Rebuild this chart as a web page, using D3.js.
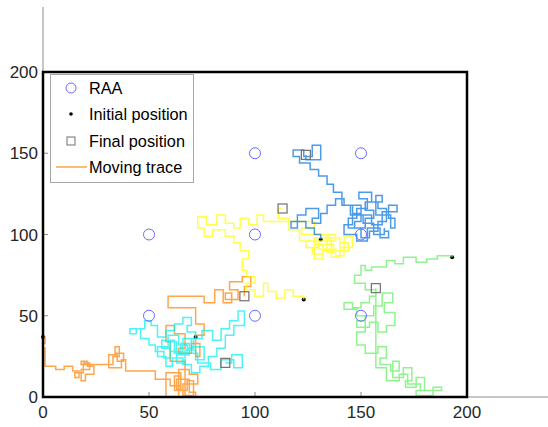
<!DOCTYPE html>
<html>
<head>
<meta charset="utf-8">
<script src="https://cdn.jsdelivr.net/npm/d3@7"></script>
<style>
  body { margin: 0; background: #fff; }
  svg { display: block; font-family: "Liberation Sans", Arial, sans-serif; }
</style>
</head>
<body>
<svg id="chart"></svg>
<script>
// chart size
var w = 548, h = 427;

// tick labels
var xTicks = [0, 50, 100, 150, 200];
var yTicks = [0, 50, 100, 150, 200];

// RAA positions
var raaX = [50, 100, 150, 50, 100, 150, 50, 100, 150];
var raaY = [50, 50, 50, 100, 100, 100, 150, 150, 150];

// moving traces, one list of [x, y] per mobile node
var traceOrange = [[0,37],[1,37],[1,33],[0,33],[0,30],[1,30],[1,19],
  [6,19],[6,17],[10,17],[10,19],[14,19],[14,16],[17,16],[17,12],[15,12],[15,15],[19,15],[19,21],[22,21],
  [22,17],[18,17],[18,10],[20,10],[20,14],[24,14],[24,19],[21,19],[21,22],[18,22],[18,20],
  [33,20],[33,25],[36,25],[36,31],[34,31],[34,27],[38,27],[38,22],[35,22],[35,26],[31,26],[31,18],[37,18],
  [37,23],[39,23],[39,16],[53,16],[53,11],[60,11],[60,7],[65,7],[65,13],[62,13],[62,4],[68,4],[68,10],
  [71,10],[71,1],[66,1],[66,8],[73,8],[73,14],[69,14],[69,17],[64,17],[64,0],[58,0],[58,15],[65,15],
  [65,5],[63,5],[63,11],[69,11],[69,3],[72,3],[72,0],[67,0],
  [67,22],[60,22],[60,34],[58,34],[58,44],[62,44],[62,39],[67,39],[67,30],[64,30],[64,27],[70,27],
  [70,33],[74,33],[74,25],[72,25],[72,38],[76,38],[76,45],[72,45],[72,55],[59,55],[59,62],[76,62],
  [76,58],[81,58],[81,66],[85,66],[85,58],[89,58],[89,64],[86,64],[86,60],[92,60],[92,66],[88,66],
  [88,71],[94,71],[94,74],[98,74],[98,68],[95,68],[95,62]];

var traceCyan = [[72,37],[72,40],[68,40],[68,44],[70,44],[70,49],[66,49],[66,45],[62,45],[62,41],
  [58,41],[58,37],[54,37],[54,44],[51,44],[51,47],[48,47],[48,42],[44,42],[44,39],[41,39],[41,42],
  [46,42],[46,36],[50,36],[50,32],[53,32],[53,28],[57,28],[57,24],[60,24],[60,30],[56,30],[56,35],
  [62,35],[62,27],[65,27],[65,33],[69,33],[69,26],[63,26],[63,21],[67,21],[67,29],[72,29],[72,23],
  [76,23],[76,31],[70,31],[70,36],[75,36],[75,41],[80,41],[80,35],[84,35],[84,42],[88,42],[88,47],
  [92,47],[92,53],[95,53],[95,44],[90,44],[90,38],[86,38],[86,30],[82,30],[82,25],[78,25],[78,19],
  [74,19],[74,15],[70,15],[70,20],[66,20],[66,24],[61,24],[61,19],[58,19],[58,25],[54,25],[54,31],
  [59,31],[59,38],[64,38],[64,32],[68,32],[68,27],[63,27],[63,34],[60,34],[60,28],[66,28],[66,36],
  [71,36],[71,30],[68,30],[68,27],[73,27],[73,21],[79,21],[79,17],[84,17],[84,23],
  [90,23],[90,18],[94,18],[94,26],[89,26],[89,21],[86,21]];

var traceYellow = [[123,60],[123,62],[118,62],[118,66],[114,66],[114,61],[110,61],[110,65],[106,65],
  [106,70],[104,70],[104,62],[100,62],[100,66],[96,66],[96,70],[100,70],[100,74],[96,74],[96,78],
  [94,78],[94,85],[97,85],[97,90],[93,90],[93,95],[90,95],[90,99],[86,99],[86,103],[80,103],[80,99],
  [76,99],[76,104],[73,104],[73,111],[77,111],[77,106],[82,106],[82,112],[86,112],[86,107],[90,107],
  [90,104],[93,104],[93,110],[97,110],[97,106],[101,106],[101,112],[104,112],[104,108],[128,108],
  [128,104],[122,104],[122,100],[135,100],[135,96],[130,96],[130,92],[127,92],[127,88],[132,88],
  [132,94],[137,94],[137,89],[134,89],[134,98],[140,98],[140,92],[146,92],[146,99],[142,99],[142,87],
  [138,87],[138,91],[130,91],[130,96],[124,96],[124,92],[128,92],[128,98],
  [136,98],[136,86],[140,86],[140,95],[144,95],[144,90],[132,90],[132,85],[128,85],[128,94],
  [134,94],[134,100],[138,100],[138,96],[121,96],[121,103],
  [116,103],[116,110],[111,110],[111,116],[113,116]];

var traceBlue = [[131,97],[131,100],[128,100],[128,104],[124,104],[124,108],[120,108],[120,104],
  [117,104],[117,108],[120,108],[120,112],[124,112],[124,116],[130,116],[130,110],[127,110],
  [127,107],[131,107],[131,113],[134,113],[134,118],[138,118],[138,122],[142,122],[142,118],
  [146,118],[146,113],[150,113],[150,108],[147,108],[147,104],[152,104],[152,110],[156,110],
  [156,115],[152,115],[152,120],[158,120],[158,116],[162,116],[162,108],[158,108],[158,102],
  [154,102],[154,98],[150,98],[150,104],[144,104],[144,110],[148,110],[148,116],[153,116],
  [153,122],[149,122],[149,126],[155,126],[155,120],[160,120],[160,124],[157,124],[157,112],
  [164,112],[164,104],[166,104],[166,110],[163,110],[163,118],[167,118],[167,114],[160,114],
  [160,106],[155,106],[155,112],[150,112],[150,118],[146,118],[146,106],[142,106],[142,100],
  [148,100],[148,96],[153,96],[153,104],[159,104],[159,98],[163,98],[163,102],
  [161,104],[161,100],[156,100],[156,107],[151,107],[151,112],[145,112],
  [145,118],[141,118],[141,126],[137,126],[137,131],[134,131],[134,136],[130,136],[130,140],
  [126,140],[126,144],[121,144],[121,148],[118,148],[118,152],[123,152],[123,148],[127,148],
  [127,155],[131,155],[131,146],[124,146],[124,149]];

var traceGreen = [[193,86],[193,87],[186,87],[186,85],[181,85],[181,83],[176,83],[176,86],[170,86],
  [170,82],[166,82],[166,84],[162,84],[162,80],[155,80],[155,78],[152,78],[152,81],[150,81],
  [150,75],[147,75],[147,70],[152,70],[152,66],[157,66],[157,62],[154,62],[154,58],[150,58],
  [150,55],[146,55],[146,58],[142,58],[142,54],[148,54],[148,50],[152,50],[152,47],[148,47],
  [148,43],[154,43],[154,46],[158,46],[158,40],[162,40],[162,44],[166,44],[166,52],[161,52],
  [161,58],[165,58],[165,64],[160,64],[160,56],[156,56],[156,50],[152,50],[152,40],[148,40],
  [148,32],[152,32],[152,27],[158,27],[158,31],[162,31],[162,24],[159,24],[159,20],[164,20],
  [164,16],[168,16],[168,22],[165,22],[165,12],[170,12],[170,18],[174,18],[174,10],[171,10],
  [171,6],[176,6],[176,12],[180,12],[180,4],[176,4],[176,1],[184,1],[184,6],[188,6],[188,4],
  [178,4],[178,8],[172,8],[172,14],[168,14],[168,10],[162,10],[162,18],[157,18],[157,67]];

var traces = [traceOrange, traceCyan, traceYellow, traceBlue, traceGreen];
var traceColors = ["#ff8000", "#00f0f0", "#ffff00", "#0070e0", "#60ee60"];

var svg = d3.select("#chart").attr("width", w).attr("height", h);

// scales: both axes run from 0 to 240
var x = d3.scaleLinear().domain([0, 240]).range([43, 43 + 240 * 2.12]);
var y = d3.scaleLinear().domain([0, 240]).range([397, 397 - 240 * 1.625]);

// gray axis lines and inner ticks
svg.append("line").attr("x1", x(0)).attr("x2", w).attr("y1", y(0)).attr("y2", y(0))
  .attr("stroke", "#8c8c8c").attr("stroke-width", 1);
svg.append("line").attr("x1", x(0)).attr("x2", x(0)).attr("y1", y(0)).attr("y2", y(240))
  .attr("stroke", "#8c8c8c").attr("stroke-width", 1);

svg.append("g").selectAll("line").data(xTicks).enter().append("line")
  .attr("x1", d => x(d)).attr("x2", d => x(d))
  .attr("y1", y(0)).attr("y2", y(0) - 5)
  .attr("stroke", "#8c8c8c");
svg.append("g").selectAll("line").data(yTicks).enter().append("line")
  .attr("x1", x(0)).attr("x2", x(0) + 5)
  .attr("y1", d => y(d)).attr("y2", d => y(d))
  .attr("stroke", "#8c8c8c");

svg.append("g").selectAll("text").data(xTicks).enter().append("text")
  .attr("x", d => x(d)).attr("y", y(0) + 21)
  .attr("text-anchor", "middle").attr("font-size", 17).attr("fill", "#262626")
  .text(d => d);
svg.append("g").selectAll("text").data(yTicks).enter().append("text")
  .attr("x", x(0) - 5).attr("y", d => y(d) + 6)
  .attr("text-anchor", "end").attr("font-size", 17).attr("fill", "#262626")
  .text(d => d);

// initial positions sit under the traces
svg.append("g").selectAll("circle").data(traces).enter().append("circle")
  .attr("cx", d => x(d[0][0])).attr("cy", d => y(d[0][1]))
  .attr("r", 2).attr("fill", "#000");

// moving traces
var line = d3.line().x(d => x(d[0])).y(d => y(d[1])).curve(d3.curveStepAfter);
svg.append("g").selectAll("path").data(traces).enter().append("path")
  .attr("d", line)
  .attr("fill", "none")
  .attr("stroke", (d, i) => traceColors[i])
  .attr("stroke-width", 1.5)
  .attr("stroke-opacity", 0.7);

// RAA circles
svg.append("g").selectAll("circle").data(raaX).enter().append("circle")
  .attr("cx", d => x(d)).attr("cy", (d, i) => y(raaY[i]))
  .attr("r", 5.5).attr("fill", "none")
  .attr("stroke", "#6a6aff").attr("stroke-width", 1);

// final positions
svg.append("g").selectAll("rect").data(traces).enter().append("rect")
  .attr("x", d => x(d[d.length - 1][0]) - 4.5).attr("y", d => y(d[d.length - 1][1]) - 4.5)
  .attr("width", 9).attr("height", 9)
  .attr("fill", "none").attr("stroke", "#707070").attr("stroke-width", 1.2);

// black frame 0..200
svg.append("rect")
  .attr("x", x(0)).attr("y", y(200))
  .attr("width", x(200) - x(0)).attr("height", y(0) - y(200))
  .attr("fill", "none").attr("stroke", "#000").attr("stroke-width", 2.5);

// legend
var lg = svg.append("g");
lg.append("rect").attr("x", 50.5).attr("y", 74.5).attr("width", 143).attr("height", 108)
  .attr("fill", "#fff").attr("stroke", "#a6a6a6").attr("stroke-width", 1);
var legendY = [88, 114, 141, 167];
var legendText = ["RAA", "Initial position", "Final position", "Moving trace"];
lg.selectAll("text").data(legendText).enter().append("text")
  .attr("x", 89).attr("y", (d, i) => legendY[i] + 6)
  .attr("font-size", 16.3).attr("fill", "#000")
  .text(d => d);
lg.append("circle").attr("cx", 71).attr("cy", legendY[0]).attr("r", 5)
  .attr("fill", "none").attr("stroke", "#6a6aff");
lg.append("circle").attr("cx", 71).attr("cy", legendY[1]).attr("r", 1.8).attr("fill", "#000");
lg.append("rect").attr("x", 67).attr("y", legendY[2] - 4).attr("width", 8).attr("height", 8)
  .attr("fill", "none").attr("stroke", "#707070");
lg.append("line").attr("x1", 56).attr("x2", 87).attr("y1", legendY[3]).attr("y2", legendY[3])
  .attr("stroke", "#ff8000").attr("stroke-opacity", 0.7).attr("stroke-width", 1.5);
</script>
</body>
</html>
